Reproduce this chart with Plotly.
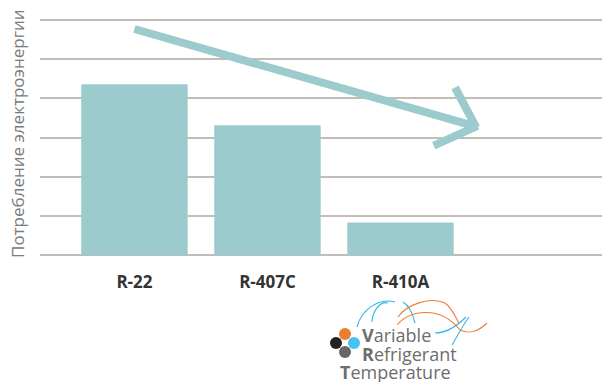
import plotly.graph_objects as go

# ── Data ──────────────────────────────────────────────────────────────────────
refrigerants = ["R-22", "R-407C", "R-410A"]
consumption = [4.36, 3.32, 0.84]          # relative units
y_ticks = [0, 1, 2, 3, 4, 5, 6]

BAR = "#9ccbcd"
GRID = "#c2bdb6"

# page body has an 8px margin, so the figure is a bit smaller than the window
OFF = 8
W, H = 602, 374
ML, MR, MT, MB = 32, 0, 7, 122


def px(x, y):
    """window pixel position -> paper coords (only for the decorative logo)."""
    x, y = x - OFF, y - OFF
    return (x - ML) / (W - ML - MR), (H - MB - y) / (H - MT - MB)


fig = go.Figure(go.Bar(
    x=refrigerants, y=consumption,
    marker=dict(color=BAR, line=dict(width=0)),
    width=0.8,
))

# trend arrow (data coords)
arrow = dict(type="line", xref="x", yref="y", layer="above",
             line=dict(color=BAR, width=8))
fig.add_shape(**arrow, x0=0.0, y0=5.77, x1=2.55, y1=3.3)
fig.add_shape(**arrow, x0=2.41, y0=4.28, x1=2.57, y1=3.26)
fig.add_shape(**arrow, x0=2.25, y0=2.80, x1=2.58, y1=3.30)

# ── VRT logo ──────────────────────────────────────────────────────────────────
def curve(pts, color):
    (x0, y0), (x1, y1), (x2, y2), (x3, y3) = [px(*p) for p in pts]
    fig.add_shape(type="path", xref="paper", yref="paper",
                  path=f"M {x0} {y0} C {x1} {y1}, {x2} {y2}, {x3} {y3}",
                  line=dict(color=color, width=1.1))

BLUE, ORANGE = "#33b5e8", "#ee7d2f"
curve([(357, 327), (362, 308), (380, 298), (395, 302)], BLUE)
curve([(372, 322), (373, 308), (382, 301), (388, 303)], BLUE)
curve([(403, 302), (410, 306), (413, 315), (415, 323)], BLUE)
curve([(435, 333), (448, 333), (458, 325), (466, 317)], BLUE)
curve([(452, 345), (458, 335), (463, 325), (469, 317)], BLUE)
curve([(398, 317), (406, 305), (430, 296), (445, 303)], ORANGE)
curve([(445, 303), (452, 308), (455, 316), (459, 323)], ORANGE)
curve([(397, 325), (410, 310), (440, 305), (460, 330)], ORANGE)
curve([(460, 330), (470, 335), (480, 330), (487, 323)], ORANGE)

for (cx, cy), c in [((345, 334), "#ee7d2f"), ((354, 343), "#45c3f0"),
                    ((336, 343), "#222222"), ((345, 352), "#666666")]:
    xa, ya = px(cx - 6, cy + 6)
    xb, yb = px(cx + 6, cy - 6)
    fig.add_shape(type="circle", xref="paper", yref="paper",
                  x0=xa, y0=ya, x1=xb, y1=yb,
                  fillcolor=c, line=dict(width=0))

logo_font = dict(family="Open Sans", size=18, color="#6d6d6d")
for text, (x, y) in [("<b>V</b>ariable", (361, 335)),
                     ("<b>R</b>efrigerant", (361, 354)),
                     ("<b>T</b>emperature", (339, 372))]:
    xa, ya = px(x, y)
    fig.add_annotation(text=text, x=xa, y=ya, xref="paper", yref="paper",
                       xanchor="left", yanchor="middle", showarrow=False,
                       font=logo_font, borderpad=0)

# y-axis title
fig.add_annotation(text="Потребление электроэнергии", textangle=-90,
                   x=px(17, 0)[0], y=px(0, 134)[1], xref="paper", yref="paper",
                   xanchor="center", yanchor="middle", showarrow=False,
                   borderpad=0,
                   font=dict(family="Open Sans", size=17, color="#7a7a7a"))

fig.update_layout(
    width=W, height=H,
    margin=dict(l=ML, r=MR, t=MT, b=MB),
    plot_bgcolor="white", paper_bgcolor="white",
    showlegend=False,
    bargap=0.2,
)
fig.update_xaxes(range=[-0.71, 3.575], showgrid=False, showline=False,
                 ticks="", ticklabelstandoff=10,
                 tickfont=dict(family="Open Sans", size=17, color="#333333"),
                 tickprefix="<b>", ticksuffix="</b>")
fig.update_yaxes(range=[-0.115, 6.127], tickvals=y_ticks, showticklabels=False,
                 showgrid=True, gridcolor=GRID, gridwidth=2,
                 zeroline=True, zerolinecolor=GRID, zerolinewidth=2)

fig.write_html("out.html")
